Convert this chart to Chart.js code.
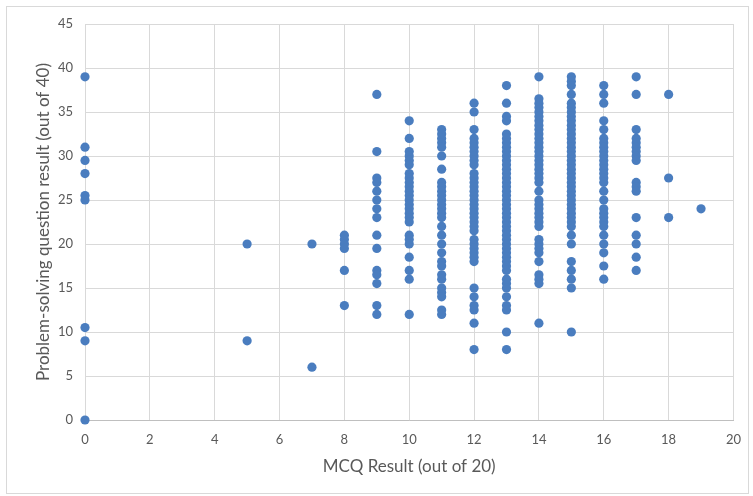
<!DOCTYPE html>
<html>
<head>
<meta charset="utf-8">
<title>MCQ vs problem-solving scatter</title>
<script src="https://cdn.jsdelivr.net/npm/chart.js"></script>
<style>
    body { margin: 0; padding: 0; background: #ffffff; }
    #chartBox { width: 753px; height: 496px; }
</style>
</head>
<body>
<div id="chartBox">
    <canvas id="myScatter" width="753" height="496"></canvas>
</div>
<script>
    // MCQ score (x) -> problem-solving scores (y)
    var mcqScores = [0, 5, 7, 8, 9, 10, 11, 12, 13, 14, 15, 16, 17, 18, 19];

    var ps0 = [39, 31, 29.5, 28, 25.5, 25, 10.5, 9, 0];
    var ps5 = [20, 9];
    var ps7 = [20, 6];
    var ps8 = [21, 20.5, 20, 19.5, 17, 13];
    var ps9 = [37, 30.5, 27.5, 27, 26, 25, 24, 23, 21, 19.5, 17, 16.5, 15.5, 13, 12];
    var ps10 = [34, 32, 30.5, 30, 29.5, 29, 28, 27.5, 27, 26.5, 26, 25.5, 25, 24.5, 24, 23.5, 23, 22.5,
                21, 20.5, 20, 18.5, 17, 16, 12];
    var ps11 = [33, 32.5, 32, 31.5, 31, 30, 28.5, 27, 26.5, 26, 25.5, 25, 24.5, 24, 23.5, 23, 22, 21, 20,
                19, 18, 17.5, 16.5, 16, 15, 14.5, 14, 12.5, 12];
    var ps12 = [36, 35, 33, 32, 31.5, 31, 30.5, 30, 29.5, 29, 28, 27.5, 27, 26.5, 26, 25.5, 25, 24.5, 24,
                23.5, 23, 22.5, 22, 21.5, 20.5, 20, 19.5, 19, 18.5, 18, 15, 14, 13, 12.5, 11, 8];
    var ps13 = [38, 36, 34.5, 34, 32.5, 32, 31.5, 31, 30.5, 30, 29.5, 29, 28.5, 28, 27.5, 27, 26.5, 26,
                25.5, 25, 24.5, 24, 23.5, 23, 22.5, 22, 21.5, 21, 20.5, 20, 19.5, 19, 18.5, 18, 17.5, 17,
                16, 15.5, 15, 14, 13, 12.5, 10, 8];
    var ps14 = [39, 36.5, 36, 35.5, 35, 34.5, 34, 33.5, 33, 32.5, 32, 31.5, 31, 30.5, 30, 29.5, 29, 28.5,
                28, 27.5, 27, 26, 25, 24.5, 24, 23.5, 23, 22.5, 22, 20.5, 20, 19.5, 19, 18, 16.5, 16, 15.5, 11];
    var ps15 = [39, 38.5, 38, 37, 36, 35.5, 35, 34.5, 34, 33.5, 33, 32.5, 32, 31.5, 31, 30.5, 30, 29.5, 29,
                28.5, 28, 27.5, 27, 26.5, 26, 25.5, 25, 24.5, 24, 23.5, 23, 22.5, 22, 21, 20, 18, 17, 16, 15, 10];
    var ps16 = [38, 37, 36, 34, 33, 32, 31.5, 31, 30.5, 30, 29.5, 29, 28.5, 28, 27.5, 27, 26, 25, 24, 23.5,
                23, 22.5, 22, 21, 20, 19, 17.5, 16];
    var ps17 = [39, 37, 33, 32, 31.5, 31, 30.5, 30, 29.5, 27, 26.5, 26, 23, 21, 20, 18.5, 17];
    var ps18 = [37, 27.5, 23];
    var ps19 = [24];

    var psColumns = [ps0, ps5, ps7, ps8, ps9, ps10, ps11, ps12, ps13, ps14, ps15, ps16, ps17, ps18, ps19];

    var xTicks = [0, 2, 4, 6, 8, 10, 12, 14, 16, 18, 20];
    var yTicks = [0, 5, 10, 15, 20, 25, 30, 35, 40, 45];

    var points = [];
    mcqScores.forEach(function (mcq, i) {
        psColumns[i].forEach(function (ps) {
            points.push({ x: mcq, y: ps });
        });
    });

    var textGrey = '#595959';
    var gridGrey = '#d9d9d9';
    var fontName = 'Lato, "Open Sans", sans-serif';

    // light frame around the whole chart, like the spreadsheet chart box
    var frame = {
        id: 'frame',
        beforeDraw: function (chart) {
            var ctx = chart.ctx;
            ctx.save();
            ctx.fillStyle = '#ffffff';
            ctx.fillRect(0, 0, chart.width, chart.height);
            ctx.strokeStyle = '#d9d9d9';
            ctx.lineWidth = 1;
            ctx.strokeRect(6.5, 6.5, chart.width - 11, chart.height - 9);
            ctx.restore();
        }
    };

    var config = {
        type: 'scatter',
        data: {
            datasets: [{
                label: 'Results',
                data: points,
                backgroundColor: '#4a7dbf',
                borderColor: '#4a7dbf',
                borderWidth: 0,
                pointRadius: 4.6,
                pointHoverRadius: 4.6,
                clip: false
            }]
        },
        options: {
            responsive: false,
            animation: false,
            layout: { padding: { left: 30, top: 24, right: 12, bottom: 0 } },
            plugins: {
                legend: { display: false },
                tooltip: { enabled: false }
            },
            scales: {
                x: {
                    type: 'linear',
                    min: 0,
                    max: 20,
                    afterFit: function (scale) { scale.height = 76; },
                    afterBuildTicks: function (scale) {
                        scale.ticks = xTicks.map(function (v) { return { value: v }; });
                    },
                    grid: { color: gridGrey, drawTicks: false },
                    border: { color: '#bfbfbf' },
                    ticks: { color: textGrey, padding: 12, font: { family: fontName, size: 13 } },
                    title: {
                        display: true,
                        text: 'MCQ Result (out of 20)',
                        color: textGrey,
                        font: { family: fontName, size: 17 },
                        padding: { top: 4, bottom: 19 }
                    }
                },
                y: {
                    type: 'linear',
                    min: 0,
                    max: 45,
                    afterFit: function (scale) { scale.width = 55; },
                    afterBuildTicks: function (scale) {
                        scale.ticks = yTicks.map(function (v) { return { value: v }; });
                    },
                    grid: { color: gridGrey, drawTicks: false },
                    border: { color: gridGrey },
                    ticks: { color: textGrey, padding: 12, font: { family: fontName, size: 13 } },
                    title: {
                        display: true,
                        text: 'Problem-solving question result (out of 40)',
                        color: textGrey,
                        font: { family: fontName, size: 17 },
                        padding: { top: 3, bottom: 3 }
                    }
                }
            }
        },
        plugins: [frame]
    };

    var myChart = new Chart(document.getElementById('myScatter'), config);
</script>
</body>
</html>
